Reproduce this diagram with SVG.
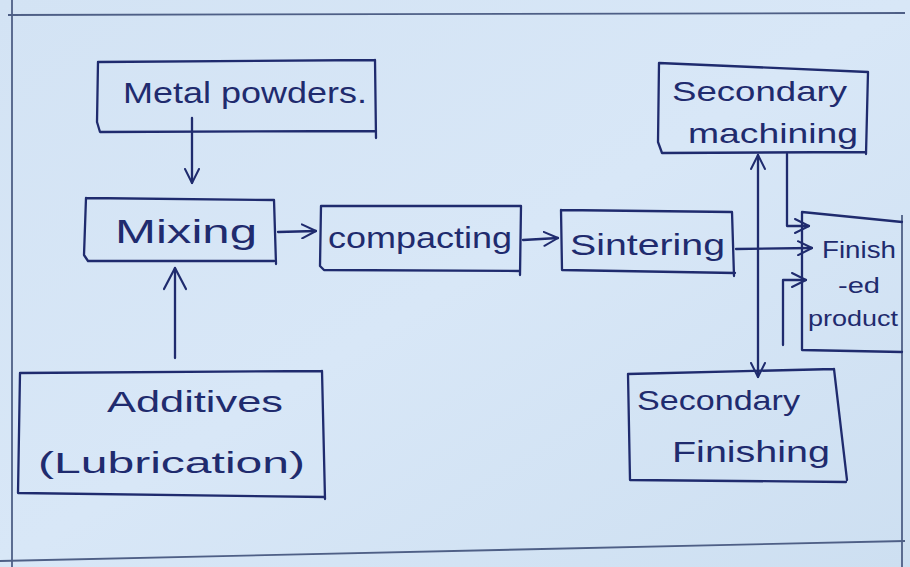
<svg xmlns="http://www.w3.org/2000/svg" width="910" height="567" viewBox="0 0 910 567">
  <style>
    .ink { fill: none; stroke: #1f2b6e; stroke-width: 2.3; stroke-linecap: round; stroke-linejoin: round; }
    .frame { fill: none; stroke: #4e5f86; stroke-width: 1.8; }
    .lbl { font-family: "Liberation Sans", Arial, sans-serif; fill: #1f2b6e; }
  </style>
  <defs>
    <linearGradient id="paper" x1="0" y1="0" x2="1" y2="1">
      <stop offset="0" stop-color="#d3e3f4"/>
      <stop offset="0.5" stop-color="#d8e7f7"/>
      <stop offset="1" stop-color="#cddff1"/>
    </linearGradient>
    <marker id="ah" viewBox="0 0 16 16" refX="15" refY="8" markerWidth="16" markerHeight="16" markerUnits="userSpaceOnUse" orient="auto">
      <path d="M1,1 L15,8 L1,15" fill="none" stroke="#1f2b6e" stroke-width="2" stroke-linecap="round" stroke-linejoin="round"/>
    </marker>
    <marker id="ahs" viewBox="0 0 16 16" refX="1" refY="8" markerWidth="16" markerHeight="16" markerUnits="userSpaceOnUse" orient="auto">
      <path d="M15,1 L1,8 L15,15" fill="none" stroke="#1f2b6e" stroke-width="2" stroke-linecap="round" stroke-linejoin="round"/>
    </marker>
    <marker id="ahb" viewBox="0 0 24 24" refX="23" refY="12" markerWidth="24" markerHeight="24" markerUnits="userSpaceOnUse" orient="auto">
      <path d="M2,1 L23,12 L2,23" fill="none" stroke="#1f2b6e" stroke-width="2.2" stroke-linecap="round" stroke-linejoin="round"/>
    </marker>
  </defs>

  <rect width="910" height="567" fill="url(#paper)"/>

  <!-- page frame -->
  <g id="frame">
    <path class="frame" d="M8,15 L905,13"/>
    <path class="frame" d="M12,0 L12,567"/>
    <path class="frame" d="M0,561 L905,541"/>
    <path class="frame" d="M902,215 L902,567"/>
  </g>

  <!-- connectors -->
  <g id="connectors">
    <path class="ink" d="M192,118 L192,183" marker-end="url(#ah)"/>
    <path class="ink" d="M175,358 L175,268" marker-end="url(#ahb)"/>
    <path class="ink" d="M278,232 L316,231" marker-end="url(#ah)"/>
    <path class="ink" d="M523,240 L558,238" marker-end="url(#ah)"/>
    <path class="ink" d="M736,249 L812,248" marker-end="url(#ah)"/>
    <path class="ink" d="M758,155 L758,377" marker-start="url(#ahs)" marker-end="url(#ah)"/>
    <path class="ink" d="M787,154 L787,226 L809,226" marker-end="url(#ah)"/>
    <path class="ink" d="M783,345 L783,280 L806,280" marker-end="url(#ah)"/>
  </g>

  <g id="metal-powders">
    <path class="ink" d="M98,62 L375,60 M98,62 L97,122 L100,132 L376,131 M375,60 L376,138"/>
    <text class="lbl" x="123" y="103" font-size="30" textLength="244" lengthAdjust="spacingAndGlyphs">Metal powders.</text>
  </g>

  <g id="mixing">
    <path class="ink" d="M86,198 L274,200 M86,198 L84,255 L88,261 L274,261 M274,200 L276,264"/>
    <text class="lbl" x="115" y="243" font-size="34" textLength="142" lengthAdjust="spacingAndGlyphs">Mixing</text>
  </g>

  <g id="compacting">
    <path class="ink" d="M321,206 L521,206 M321,206 L320,266 L324,270 L520,271 M521,206 L520,275"/>
    <text class="lbl" x="328" y="248" font-size="30" textLength="184" lengthAdjust="spacingAndGlyphs">compacting</text>
  </g>

  <g id="sintering">
    <path class="ink" d="M561,210 L732,212 M561,210 L562,270 L735,273 M732,212 L734,276"/>
    <text class="lbl" x="570" y="255" font-size="30" textLength="155" lengthAdjust="spacingAndGlyphs">Sintering</text>
  </g>

  <g id="secondary-machining">
    <path class="ink" d="M659,63 L868,72 M659,63 L658,142 L662,153 L866,152 M868,72 L866,154"/>
    <text class="lbl" x="672" y="101" font-size="28" textLength="175" lengthAdjust="spacingAndGlyphs">Secondary</text>
    <text class="lbl" x="688" y="143" font-size="28" textLength="170" lengthAdjust="spacingAndGlyphs">machining</text>
  </g>

  <g id="finished-product">
    <path class="ink" d="M902,222 L802,212 L802,350 L902,352"/>
    <text class="lbl" x="822" y="258" font-size="24" textLength="74" lengthAdjust="spacingAndGlyphs">Finish</text>
    <text class="lbl" x="838" y="293" font-size="22" textLength="42" lengthAdjust="spacingAndGlyphs">-ed</text>
    <text class="lbl" x="808" y="326" font-size="22" textLength="90" lengthAdjust="spacingAndGlyphs">product</text>
  </g>

  <g id="additives">
    <path class="ink" d="M20,373 L322,371 M20,373 L18,493 L325,497 M322,371 L325,499"/>
    <text class="lbl" x="107" y="412" font-size="30" textLength="176" lengthAdjust="spacingAndGlyphs">Additives</text>
    <text class="lbl" x="38" y="473" font-size="30" textLength="267" lengthAdjust="spacingAndGlyphs">(Lubrication)</text>
  </g>

  <g id="secondary-finishing">
    <path class="ink" d="M628,374 L834,369 M628,374 L630,480 L846,482 M834,369 L847,480"/>
    <text class="lbl" x="637" y="410" font-size="28" textLength="163" lengthAdjust="spacingAndGlyphs">Secondary</text>
    <text class="lbl" x="672" y="462" font-size="30" textLength="158" lengthAdjust="spacingAndGlyphs">Finishing</text>
  </g>
</svg>
